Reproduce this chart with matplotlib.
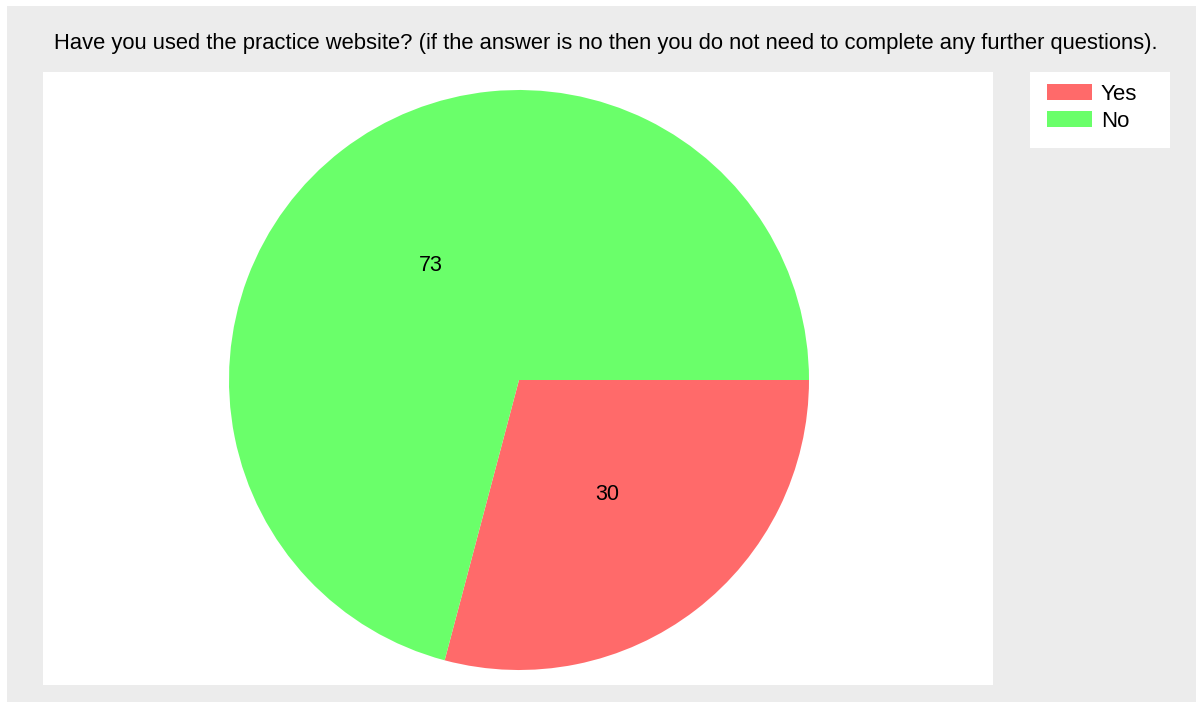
import matplotlib
matplotlib.use('Agg')
from matplotlib import pyplot as plt
from matplotlib.patches import Rectangle

plt.rcParams['font.family'] = ['Liberation Sans', 'DejaVu Sans']

title = 'Have you used the practice website? (if the answer is no then you do not need to complete any further questions).'
categories = ['Yes', 'No']
counts = [30, 73]
colours = ['#ff6a6a', '#6aff6a']

W, H = 1203, 702
fig = plt.figure(figsize=(W / 100, H / 100), dpi=100)
fig.patch.set_facecolor('white')

def box(x0, y0, x1, y1):
    # pixel box (top-left origin) -> figure fraction rect
    return [x0 / W, 1 - y1 / H, (x1 - x0) / W, (y1 - y0) / H]

# grey panel
fig.patches.append(Rectangle((7 / W, 0), (1196 - 7) / W, (702 - 6) / H,
                             transform=fig.transFigure, facecolor='#ececec',
                             edgecolor='none', zorder=-2))
# white plot area
bg = fig.add_axes(box(43, 72, 993, 685))
bg.set_facecolor('white')
bg.set_xticks([])
bg.set_yticks([])
for s in bg.spines.values():
    s.set_visible(False)

# legend background
fig.patches.append(Rectangle((1030 / W, 1 - 148 / H), 140 / W, 76 / H,
                             transform=fig.transFigure, facecolor='white',
                             edgecolor='none', zorder=-1))

total = sum(counts)
ax = fig.add_axes(box(229, 90, 809, 670))
wedges, texts, autotexts = ax.pie(counts, colors=colours, startangle=0, counterclock=False,
                                  autopct=lambda p: '%d' % round(p * total / 100),
                                  pctdistance=0.5, radius=1,
                                  textprops={'fontsize': 15.5, 'color': 'black'})
ax.set_xlim(-1, 1)
ax.set_ylim(-1, 1)
ax.set_aspect('equal')
ax.axis('off')

fig.text(606 / W, 1 - 44 / H, title, ha='center', va='center', fontsize=15.85)

fig.legend(wedges, categories, loc='upper left', bbox_to_anchor=(1047 / W, 1 - 84 / H),
           frameon=False, fontsize=16, handlelength=2.03, handleheight=0.72,
           handletextpad=0.4, labelspacing=0.27, borderpad=0, borderaxespad=0)

fig.savefig('out.png', dpi=100, facecolor=fig.get_facecolor())
